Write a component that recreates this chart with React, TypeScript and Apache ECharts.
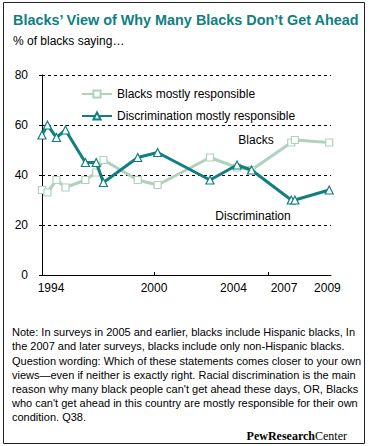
import React, { useEffect, useRef } from "react";
import * as echarts from "echarts";

// Survey dates (decimal years)
const surveyDates = [1994.0, 1994.3, 1994.8, 1995.3, 1996.4, 1997.0, 1997.4, 1999.3, 2000.4, 2003.3, 2004.8, 2005.6, 2007.8, 2008.0, 2009.9];
const blacksResponsible = [34, 33, 38, 35, 38, 41, 46, 38, 36, 47, 43, 42, 53, 54, 53];
const discrimination = [56, 60, 55, 58, 45, 45, 37, 47, 49, 38, 44, 42, 30, 30, 34];

const xLabelText = ["1994", "2000", "2004", "2007", "2009"];
const xLabelPos = [1994.5, 2000.2, 2004.6, 2007.4, 2009.8];
const xTickPos = [2000.2, 2006.5];

const seriesNames = ["Blacks mostly responsible", "Discrimination mostly responsible"];

const noteLines = [
  "Note: In surveys in 2005 and earlier, blacks include Hispanic blacks, In",
  "the 2007 and later surveys, blacks include only non-Hispanic blacks.",
];
const questionLines = [
  "Question wording: Which of these statements comes closer to your own",
  "views\u2014even if neither is exactly right. Racial discrimination is the main",
  "reason why many black people can't get ahead these days, OR, Blacks",
  "who can't get ahead in this country are mostly responsible for their own",
  "condition. Q38.",
];

const FONT = "'Liberation Sans', Arial, sans-serif";
const LIGHT = "#b0d1bd";
const TEAL = "#117f80";

export default function App() {
  const ref = useRef<HTMLDivElement>(null);
  useEffect(() => {
    document.body.style.margin = "0";
    if (!ref.current) return;
    const chart = echarts.init(ref.current, undefined, { renderer: "svg" });

    const textLines: any[] = [];
    noteLines.forEach((t, i) => {
      textLines.push({
        type: "text",
        left: 12,
        top: 326 + i * 14,
        style: { text: t, font: `11px ${FONT}`, fill: "#000" },
      });
    });
    questionLines.forEach((t, i) => {
      textLines.push({
        type: "text",
        left: 12,
        top: 355 + i * 14,
        style: { text: t, font: `11px ${FONT}`, fill: "#000" },
      });
    });

    chart.setOption({
      animation: false,
      grid: { left: 42, right: 41, top: 75, bottom: 171 },
      legend: {
        orient: "vertical",
        left: 76,
        top: 83,
        itemWidth: 30,
        itemHeight: 9,
        itemGap: 10,
        textStyle: { fontFamily: FONT, fontSize: 12, color: "#000" },
        data: seriesNames,
      },
      xAxis: {
        type: "value",
        min: 1994,
        max: 2010,
        axisLine: { show: true, lineStyle: { color: "#000", width: 1 } },
        axisTick: {
          show: true,
          inside: true,
          length: 3,
          customValues: xTickPos,
          lineStyle: { color: "#000" },
        },
        splitLine: { show: false },
        axisLabel: {
          customValues: xLabelPos,
          formatter: (v: number) => {
            const i = xLabelPos.findIndex((p) => Math.abs(p - v) < 0.01);
            return i >= 0 ? xLabelText[i] : "";
          },
          fontFamily: FONT,
          fontSize: 12,
          color: "#000",
          margin: 7,
        },
      },
      yAxis: {
        type: "value",
        min: 0,
        max: 80,
        interval: 20,
        axisLine: { show: true, lineStyle: { color: "#000", width: 1 } },
        axisTick: { show: true, length: 3, lineStyle: { color: "#000" } },
        splitLine: { show: true, lineStyle: { color: "#000", type: [3, 3], width: 1 } },
        axisLabel: { fontFamily: FONT, fontSize: 12, color: "#000", margin: 14 },
      },
      series: [
        {
          name: seriesNames[0],
          type: "line",
          data: surveyDates.map((d, i) => [d, blacksResponsible[i]]),
          symbol: "rect",
          symbolSize: 7,
          lineStyle: { color: LIGHT, width: 3 },
          itemStyle: { color: "#fff", borderColor: LIGHT, borderWidth: 1.2 },
          clip: false,
          z: 2,
        },
        {
          name: seriesNames[1],
          type: "line",
          data: surveyDates.map((d, i) => [d, discrimination[i]]),
          symbol: "triangle",
          symbolSize: 8,
          lineStyle: { color: TEAL, width: 3 },
          itemStyle: { color: "#fff", borderColor: TEAL, borderWidth: 1.2 },
          clip: false,
          z: 3,
        },
      ],
      graphic: [
        {
          type: "rect",
          shape: { x: 3.5, y: 2.5, width: 361, height: 441 },
          style: { fill: "none", stroke: "#222", lineWidth: 1 },
          silent: true,
        },
        {
          type: "text",
          left: 13,
          top: 13,
          style: {
            text: "Blacks\u2019 View of Why Many Blacks Don\u2019t Get Ahead",
            font: `bold 14.4px ${FONT}`,
            fill: "#0f8080",
          },
        },
        {
          type: "text",
          left: 13,
          top: 35,
          style: { text: "% of blacks saying\u2026", font: `12px ${FONT}`, fill: "#000" },
        },
        {
          type: "text",
          x: 256,
          y: 140,
          style: { text: "Blacks", font: `12px ${FONT}`, fill: "#000", align: "center", verticalAlign: "middle" },
        },
        {
          type: "text",
          x: 253,
          y: 216,
          style: { text: "Discrimination", font: `12px ${FONT}`, fill: "#000", align: "center", verticalAlign: "middle" },
        },
        ...textLines,
        {
          type: "text",
          x: 347,
          y: 436,
          style: {
            text: "{a|PewResearch}{b|Center}",
            align: "right",
            verticalAlign: "middle",
            rich: {
              a: { fontFamily: "'Liberation Serif', 'Times New Roman', serif", fontSize: 12, fontWeight: "bold", color: "#333" },
              b: { fontFamily: "'Liberation Serif', 'Times New Roman', serif", fontSize: 12, color: "#999" },
            },
          },
        },
      ],
    });
    return () => chart.dispose();
  }, []);
  return <div ref={ref} style={{ width: 372, height: 446 }} />;
}
